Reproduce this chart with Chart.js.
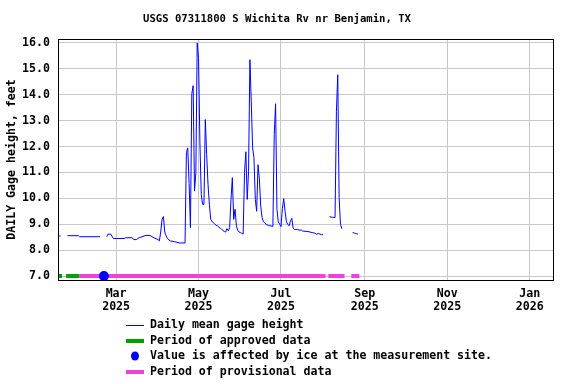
<!DOCTYPE html>
<html>
<head>
<meta charset="utf-8">
<script src="https://cdn.jsdelivr.net/npm/chart.js@4"></script>
<style>
  html, body { margin: 0; padding: 0; background: #ffffff; }
  #wrap { position: relative; width: 576px; height: 384px; }
  canvas { display: block; }
</style>
</head>
<body>
<div id="wrap"><canvas id="c" width="576" height="384"></canvas></div>
<script>
// ---------------- DATA ----------------
const titleText = "USGS 07311800 S Wichita Rv nr Benjamin, TX";
const yTitle = "DAILY Gage height, feet";

// daily mean gage height (feet); null = no data (gap)
const dates = [
  "2025-01-17","2025-01-18","2025-01-19","2025-01-20",
  "2025-01-24","2025-02-01","2025-02-02","2025-02-17","2025-02-18",
  "2025-02-22","2025-02-23","2025-02-25","2025-02-27","2025-03-07","2025-03-08","2025-03-13","2025-03-14",
  "2025-03-16","2025-03-18","2025-03-23","2025-03-26","2025-03-29","2025-04-01","2025-04-02","2025-04-03",
  "2025-04-04","2025-04-05","2025-04-06","2025-04-07","2025-04-08","2025-04-10","2025-04-13","2025-04-17",
  "2025-04-21","2025-04-22","2025-04-23","2025-04-24","2025-04-25","2025-04-26","2025-04-27","2025-04-28",
  "2025-04-29","2025-04-30","2025-05-01","2025-05-02","2025-05-03","2025-05-04","2025-05-05","2025-05-06",
  "2025-05-07","2025-05-08","2025-05-09","2025-05-10","2025-05-11","2025-05-12","2025-05-14","2025-05-15",
  "2025-05-17","2025-05-18","2025-05-20","2025-05-21","2025-05-22","2025-05-23","2025-05-24","2025-05-25",
  "2025-05-26","2025-05-27","2025-05-28","2025-05-29","2025-05-30","2025-05-31","2025-06-01","2025-06-02",
  "2025-06-03","2025-06-04","2025-06-05","2025-06-06","2025-06-07","2025-06-08","2025-06-09","2025-06-10",
  "2025-06-11","2025-06-12","2025-06-13","2025-06-14","2025-06-15","2025-06-16","2025-06-17","2025-06-18",
  "2025-06-19","2025-06-20","2025-06-22","2025-06-25","2025-06-26","2025-06-27","2025-06-28","2025-06-29",
  "2025-06-30","2025-07-01","2025-07-02","2025-07-03","2025-07-04","2025-07-05","2025-07-06","2025-07-07",
  "2025-07-08","2025-07-09","2025-07-10","2025-07-11","2025-07-13","2025-07-15","2025-07-16","2025-07-17",
  "2025-07-21","2025-07-24","2025-07-26","2025-07-27","2025-07-29","2025-07-31","2025-08-01","2025-08-03",
  "2025-08-06","2025-08-07","2025-08-08","2025-08-10","2025-08-11","2025-08-12","2025-08-13","2025-08-14",
  "2025-08-15","2025-08-18",
  "2025-08-23","2025-08-25","2025-08-27"
];
const gageHeight = [
  8.55,8.55,8.55,null,
  8.56,8.56,8.52,8.52,null,
  8.52,8.62,8.62,8.45,8.45,8.48,8.48,8.41,
  8.41,8.48,8.57,8.57,8.48,8.41,8.36,8.70,
  9.19,9.30,8.70,8.55,8.45,8.36,8.33,8.28,
  8.28,11.76,11.95,10.58,8.87,14.04,14.35,10.28,
  10.99,16.00,15.40,12.14,10.15,9.77,9.77,13.04,
  11.70,10.54,9.77,9.19,9.10,9.06,8.96,8.94,
  8.85,8.81,8.72,8.70,8.83,8.75,8.87,9.96,
  10.80,9.19,9.58,8.94,8.77,8.70,8.68,8.65,
  8.62,10.99,11.80,9.96,11.05,15.35,13.74,11.95,
  11.57,9.96,9.50,11.30,10.75,9.70,9.26,9.10,
  9.05,9.00,8.95,8.92,12.46,13.65,9.58,9.10,
  9.00,8.91,9.60,9.99,9.50,9.10,9.00,8.94,
  9.13,9.23,8.85,8.80,8.80,8.77,8.78,8.74,
  8.72,8.68,8.66,8.62,8.64,8.60,8.60,null,
  9.30,9.28,9.27,9.26,13.36,14.77,10.03,9.00,
  8.83,null,
  8.68,8.65,8.62
];

// data-status periods [start, end], drawn along 7.0 ft
const approvedPeriods = [["2025-01-16","2025-01-20"],["2025-01-23","2025-02-02"]];
const provisionalPeriods = [["2025-02-02","2025-08-03"],["2025-08-05","2025-08-17"],["2025-08-22","2025-08-28"]];
const iceDates = ["2025-02-20"];
const statusLevel = 7.0;

// axes
const xRange = ["2025-01-17","2026-01-19"];
const yRange = [6.85, 16.15];
const yTickValues = [7,8,9,10,11,12,13,14,15,16];
const xTickDates = ["2025-03-01","2025-05-01","2025-07-01","2025-09-01","2025-11-01","2026-01-01"];
const xTickLabels = [["Mar","2025"],["May","2025"],["Jul","2025"],["Sep","2025"],["Nov","2025"],["Jan","2026"]];

// ---------------- BUILD ----------------
const toDay = s => (Date.UTC(+s.slice(0,4), +s.slice(5,7)-1, +s.slice(8,10)) - Date.UTC(2025,0,1)) / 86400000;
const linePts = dates.map((d,i) => ({x: toDay(d), y: gageHeight[i]}));
const periodPts = periods => {
  const out = [];
  periods.forEach(([a,b], i) => {
    if (i > 0) out.push({x: (toDay(a) + toDay(periods[i-1][1])) / 2, y: null});
    out.push({x: toDay(a), y: statusLevel});
    out.push({x: toDay(b), y: statusLevel});
  });
  return out;
};

const MONO = '"DejaVu Sans Mono", "Liberation Mono", monospace';
const tickFont = {family: MONO, size: 11.6, weight: 'bold', lineHeight: 1.1};

const boxPlugin = {
  id: 'box',
  afterDatasetsDraw(chart) {
    const {ctx, chartArea: a} = chart;
    ctx.save();
    ctx.strokeStyle = '#000';
    ctx.lineWidth = 1;
    ctx.strokeRect(Math.round(a.left) + 0.5, Math.round(a.top) + 0.5,
                   Math.round(a.right - a.left) - 1, Math.round(a.bottom - a.top));
    ctx.restore();
  }
};

const legendPlugin = {
  id: 'legendRows',
  afterDraw(chart) {
    const ctx = chart.ctx;
    const rows = [0, 1, 2, 3];
    const x0 = 126, x1 = 144, tx = 150, y0 = 325, dy = 15.5;
    ctx.save();
    ctx.font = 'bold 11.6px ' + MONO;
    ctx.textBaseline = 'middle';
    ctx.fillStyle = '#000';
    chart.data.datasets.forEach((ds, i) => {
      const y = y0 + i * dy;
      if (ds.legendKind === 'dot') {
        ctx.beginPath();
        ctx.fillStyle = ds.backgroundColor;
        ctx.ellipse((x0 + x1) / 2, y, 4, 4.5, 0, 0, Math.PI * 2);
        ctx.fill();
      } else {
        ctx.strokeStyle = ds.borderColor;
        ctx.lineWidth = ds.borderWidth;
        ctx.beginPath();
        ctx.moveTo(x0, Math.round(y) + (ds.borderWidth % 2 ? 0.5 : 0));
        ctx.lineTo(x1, Math.round(y) + (ds.borderWidth % 2 ? 0.5 : 0));
        ctx.stroke();
      }
      ctx.fillStyle = '#000';
      ctx.fillText(ds.label, tx, y);
    });
    ctx.restore();
  }
};

new Chart(document.getElementById('c'), {
  type: 'line',
  data: {
    datasets: [
      {label: 'Daily mean gage height', data: linePts, borderColor: '#0000ff', borderWidth: 1,
       pointRadius: 0, spanGaps: false, tension: 0, order: 3, legendKind: 'line'},
      {label: 'Period of approved data', data: periodPts(approvedPeriods), borderColor: '#00a000', borderWidth: 4,
       pointRadius: 0, spanGaps: false, borderCapStyle: 'butt', order: 2, legendKind: 'line'},
      {label: 'Value is affected by ice at the measurement site.', data: iceDates.map(d => ({x: toDay(d), y: statusLevel})),
       showLine: false, pointRadius: 5, pointBackgroundColor: '#0000ff', pointBorderWidth: 0,
       backgroundColor: '#0000ff', borderColor: '#0000ff', order: 0, legendKind: 'dot'},
      {label: 'Period of provisional data', data: periodPts(provisionalPeriods), borderColor: '#f040e0', borderWidth: 4,
       pointRadius: 0, spanGaps: false, borderCapStyle: 'butt', order: 1, legendKind: 'line'}
    ]
  },
  options: {
    responsive: false,
    devicePixelRatio: 1,
    animation: false,
    events: [],
    layout: {padding: {left: 0, right: 22, top: 0, bottom: 70}},
    plugins: {
      legend: {display: false},
      tooltip: {enabled: false},
      title: {display: true, text: titleText, color: '#000',
              font: {family: MONO, size: 10.6, weight: 'bold', lineHeight: 1.2},
              padding: {top: 13, bottom: 13.3}}
    },
    scales: {
      x: {
        type: 'linear',
        min: toDay(xRange[0]), max: toDay(xRange[1]),
        afterBuildTicks: s => { s.ticks = xTickDates.map(d => ({value: toDay(d)})); },
        afterFit: s => { s.height = 34; },
        grid: {color: '#c8c8c8', lineWidth: 1, drawTicks: false},
        border: {display: false},
        ticks: {autoSkip: false, maxRotation: 0, color: '#000', font: tickFont, padding: 8,
                callback: (v, i) => xTickLabels[i]}
      },
      y: {
        type: 'linear',
        min: yRange[0], max: yRange[1],
        afterBuildTicks: s => { s.ticks = yTickValues.map(v => ({value: v})); },
        afterFit: s => { s.width = 58; },
        grid: {color: '#c8c8c8', lineWidth: 1, drawTicks: false},
        border: {display: false},
        ticks: {color: '#000', font: tickFont, padding: 8, callback: v => v.toFixed(1)},
        title: {display: true, text: yTitle, color: '#000',
                font: {family: MONO, size: 11.6, weight: 'bold', lineHeight: 1.2},
                padding: {top: 5, bottom: 0}}
      }
    }
  },
  plugins: [boxPlugin, legendPlugin]
});
</script>
</body>
</html>
